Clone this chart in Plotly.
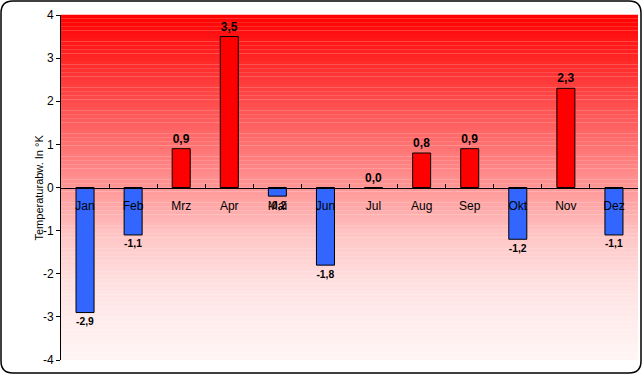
import plotly.graph_objects as go

months = ["Jan", "Feb", "Mrz", "Apr", "Mai", "Jun", "Jul", "Aug", "Sep", "Okt", "Nov", "Dez"]
anomaly = [-2.9, -1.1, 0.9, 3.5, -0.2, -1.8, 0.0, 0.8, 0.9, -1.2, 2.3, -1.1]
y_ticks = [-4, -3, -2, -1, 0, 1, 2, 3, 4]
y_title = "Temperaturabw. In °K"

POS = "#FF0000"
NEG = "#3366FF"
colors = [POS if v >= 0 else NEG for v in anomaly]

W, H = 643, 375
L, R, T, B = 61, 5, 15, 15
pw, ph = W - L - R, H - T - B

def px2x(px):
    return (px - L) / pw

def py2y(py):
    return (H - B - py) / ph

fig = go.Figure()
fig.add_trace(go.Bar(
    x=months, y=anomaly,
    marker=dict(color=colors, line=dict(color="black", width=1)),
    texttemplate="%{y:.1f}", textposition="outside",
    textfont=dict(family="Liberation Sans", size=12, color="black", weight="bold"),
    cliponaxis=False,
))

# gradient background strips
stops = [(0.0, 0), (0.25, 75), (0.5, 150), (0.65, 200), (0.8, 228), (1.0, 245)]
def gb(f):
    for (f0, v0), (f1, v1) in zip(stops, stops[1:]):
        if f <= f1:
            return v0 + (v1 - v0) * (f - f0) / (f1 - f0)
    return stops[-1][1]

shapes = []
N = 90
for i in range(N):
    f = (i + 0.5) / N
    g = int(round(gb(f)))
    shapes.append(dict(type="rect", xref="paper", yref="paper", x0=0, x1=1,
                       y0=1 - (i + 1) / N, y1=1 - i / N + 0.0005,
                       fillcolor=f"rgb(255,{g},{g})", line=dict(width=0), layer="below"))

# outer rounded border
x0, x1, y0, y1, r = 1, 641, 1, 373, 12
path = (f"M {px2x(x0 + r)},{py2y(y0)} L {px2x(x1 - r)},{py2y(y0)} "
        f"Q {px2x(x1)},{py2y(y0)} {px2x(x1)},{py2y(y0 + r)} "
        f"L {px2x(x1)},{py2y(y1 - r)} Q {px2x(x1)},{py2y(y1)} {px2x(x1 - r)},{py2y(y1)} "
        f"L {px2x(x0 + r)},{py2y(y1)} Q {px2x(x0)},{py2y(y1)} {px2x(x0)},{py2y(y1 - r)} "
        f"L {px2x(x0)},{py2y(y0 + r)} Q {px2x(x0)},{py2y(y0)} {px2x(x0 + r)},{py2y(y0)} Z")
shapes.append(dict(type="path", xref="paper", yref="paper", path=path,
                   line=dict(color="black", width=1.5), layer="above"))

fig.update_layout(
    width=W, height=H,
    margin=dict(l=L, r=R, t=T, b=B),
    paper_bgcolor="white", plot_bgcolor="white",
    separators=",.",
    showlegend=False,
    bargap=0.625,
    shapes=shapes,
    font=dict(family="Liberation Sans", size=12, color="black"),
    annotations=[dict(text=y_title, textangle=-90, xref="paper", yref="paper",
                      x=px2x(38), y=0.5, showarrow=False, xanchor="center", yanchor="middle",
                      font=dict(size=11, family="Liberation Sans", color="black"))],
    xaxis=dict(
        type="category", anchor="free", position=0.5,
        showline=True, linecolor="black", linewidth=1,
        ticks="inside", ticklen=4, tickcolor="black", tickson="boundaries",
        showgrid=False, zeroline=False,
        ticklabelstandoff=7,
        tickfont=dict(size=12, family="Liberation Sans"),
        range=[-0.5, 11.5],
    ),
    yaxis=dict(
        range=[-4, 4], tickvals=y_ticks, ticktext=[str(v) for v in y_ticks],
        showline=True, linecolor="black", linewidth=1,
        ticks="outside", ticklen=4, tickcolor="black",
        showgrid=False, zeroline=False,
        tickfont=dict(size=12, family="Liberation Sans"),
    ),
)

fig.write_html("out.html", config={"displayModeBar": False},
               post_script="document.body.style.margin='0';document.body.style.overflow='hidden';")
